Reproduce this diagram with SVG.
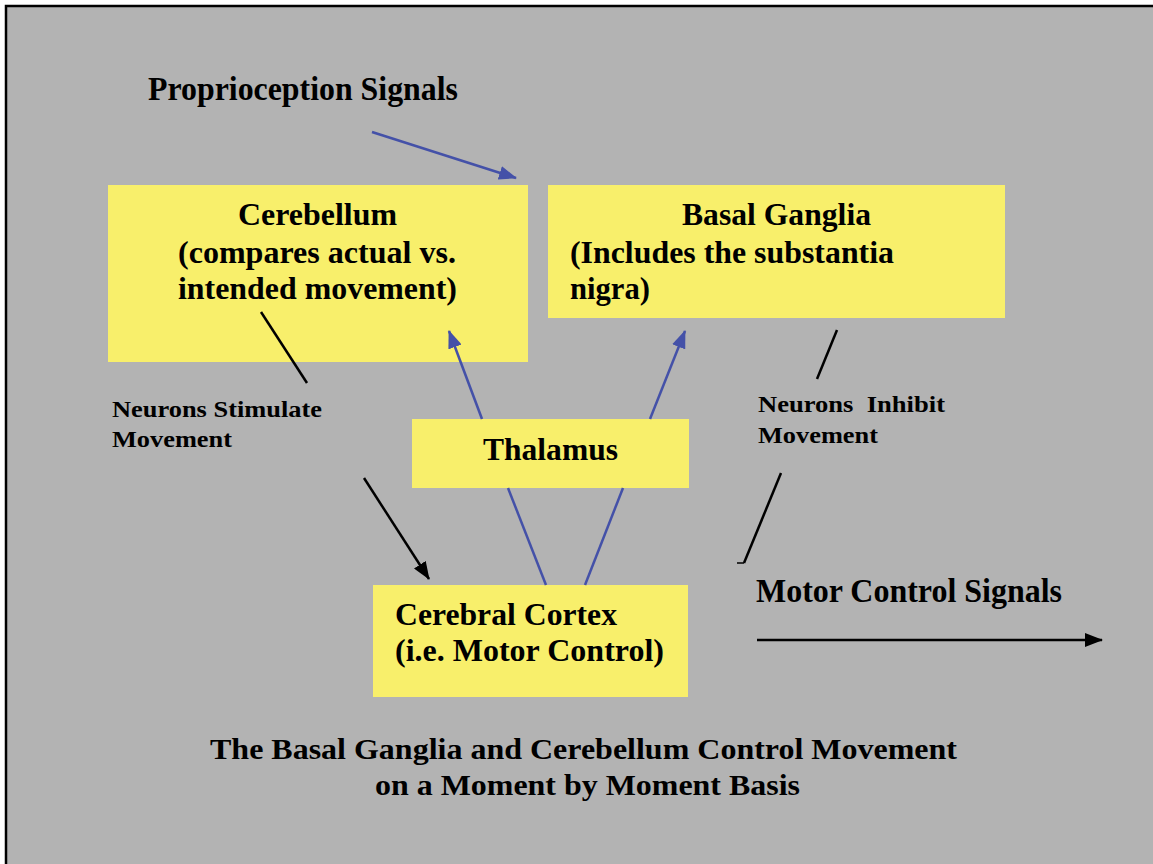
<svg xmlns="http://www.w3.org/2000/svg" width="1153" height="864" viewBox="0 0 1153 864">
<defs>
<style>
.t{font-family:"Liberation Serif","Times New Roman",serif;font-weight:bold;fill:#000}
.big{font-size:31px}
.lab{font-size:33px}
.mid{font-size:29px}
.sm{font-size:23px}
.box{fill:#f8ef6b}
.blue{stroke:#4451a8;stroke-width:2.5;fill:none}
.blk{stroke:#000;stroke-width:2.5;fill:none}
</style>
<marker id="ab" viewBox="0 0 18 14" refX="17" refY="7" markerWidth="18" markerHeight="14" markerUnits="userSpaceOnUse" orient="auto">
<path d="M0,0 L18,7 L0,14 z" fill="#4451a8"/>
</marker>
<marker id="ak" viewBox="0 0 18 14" refX="17" refY="7" markerWidth="18" markerHeight="14" markerUnits="userSpaceOnUse" orient="auto">
<path d="M0,0 L18,7 L0,14 z" fill="#000"/>
</marker>
</defs>
<rect x="0" y="0" width="1153" height="864" fill="#fff"/>
<rect x="6" y="6" width="1160" height="870" fill="#b3b3b3" stroke="#000" stroke-width="2.5"/>

<g id="cerebellum">
<rect class="box" x="108" y="185" width="420" height="177"/>
<text class="t big" x="238" y="225" textLength="159" lengthAdjust="spacingAndGlyphs">Cerebellum</text>
<text class="t big" x="178" y="263" textLength="278" lengthAdjust="spacingAndGlyphs">(compares actual vs.</text>
<text class="t big" x="178" y="299" textLength="279" lengthAdjust="spacingAndGlyphs">intended movement)</text>
</g>

<g id="basal-ganglia">
<rect class="box" x="548" y="185" width="457" height="133"/>
<text class="t big" x="682" y="225" textLength="189" lengthAdjust="spacingAndGlyphs">Basal Ganglia</text>
<text class="t big" x="570" y="263" textLength="324" lengthAdjust="spacingAndGlyphs">(Includes the substantia</text>
<text class="t big" x="570" y="299" textLength="80" lengthAdjust="spacingAndGlyphs">nigra)</text>
</g>

<g id="thalamus">
<rect class="box" x="412" y="419" width="277" height="69"/>
<text class="t big" x="483" y="460" textLength="135" lengthAdjust="spacingAndGlyphs">Thalamus</text>
</g>

<g id="cerebral-cortex">
<rect class="box" x="373" y="585" width="315" height="112"/>
<text class="t big" x="395" y="625" textLength="222" lengthAdjust="spacingAndGlyphs">Cerebral Cortex</text>
<text class="t big" x="395" y="661" textLength="269" lengthAdjust="spacingAndGlyphs">(i.e. Motor Control)</text>
</g>

<g id="labels">
<text class="t lab" x="148" y="100" textLength="310" lengthAdjust="spacingAndGlyphs">Proprioception Signals</text>
<text class="t sm" x="112" y="417" textLength="210" lengthAdjust="spacingAndGlyphs">Neurons Stimulate</text>
<text class="t sm" x="112" y="447" textLength="120" lengthAdjust="spacingAndGlyphs">Movement</text>
<text class="t sm" x="758" y="412" textLength="187" lengthAdjust="spacingAndGlyphs" xml:space="preserve">Neurons  Inhibit</text>
<text class="t sm" x="758" y="443" textLength="120" lengthAdjust="spacingAndGlyphs">Movement</text>
<text class="t lab" x="756" y="602" textLength="306" lengthAdjust="spacingAndGlyphs">Motor Control Signals</text>
<text class="t mid" x="210" y="759" textLength="747" lengthAdjust="spacingAndGlyphs">The Basal Ganglia and Cerebellum Control Movement</text>
<text class="t mid" x="375" y="795" textLength="425" lengthAdjust="spacingAndGlyphs">on a Moment by Moment Basis</text>
</g>

<g id="connectors">
<line class="blue" x1="372" y1="132" x2="516" y2="178" marker-end="url(#ab)"/>
<line class="blue" x1="482" y1="419" x2="449" y2="331" marker-end="url(#ab)"/>
<line class="blue" x1="650" y1="419" x2="685" y2="331" marker-end="url(#ab)"/>
<line class="blue" x1="546" y1="585" x2="508" y2="488"/>
<line class="blue" x1="585" y1="585" x2="623" y2="488"/>
<line class="blk" x1="261" y1="312" x2="307" y2="383"/>
<line class="blk" x1="364" y1="478" x2="429" y2="579" marker-end="url(#ak)"/>
<line class="blk" x1="837" y1="330" x2="817" y2="379"/>
<line class="blk" x1="781" y1="473" x2="744" y2="563"/>
<line stroke="#000" stroke-width="1.5" x1="737" y1="563" x2="744" y2="563"/>
<line class="blk" x1="757" y1="640" x2="1102" y2="640" marker-end="url(#ak)"/>
</g>
</svg>
